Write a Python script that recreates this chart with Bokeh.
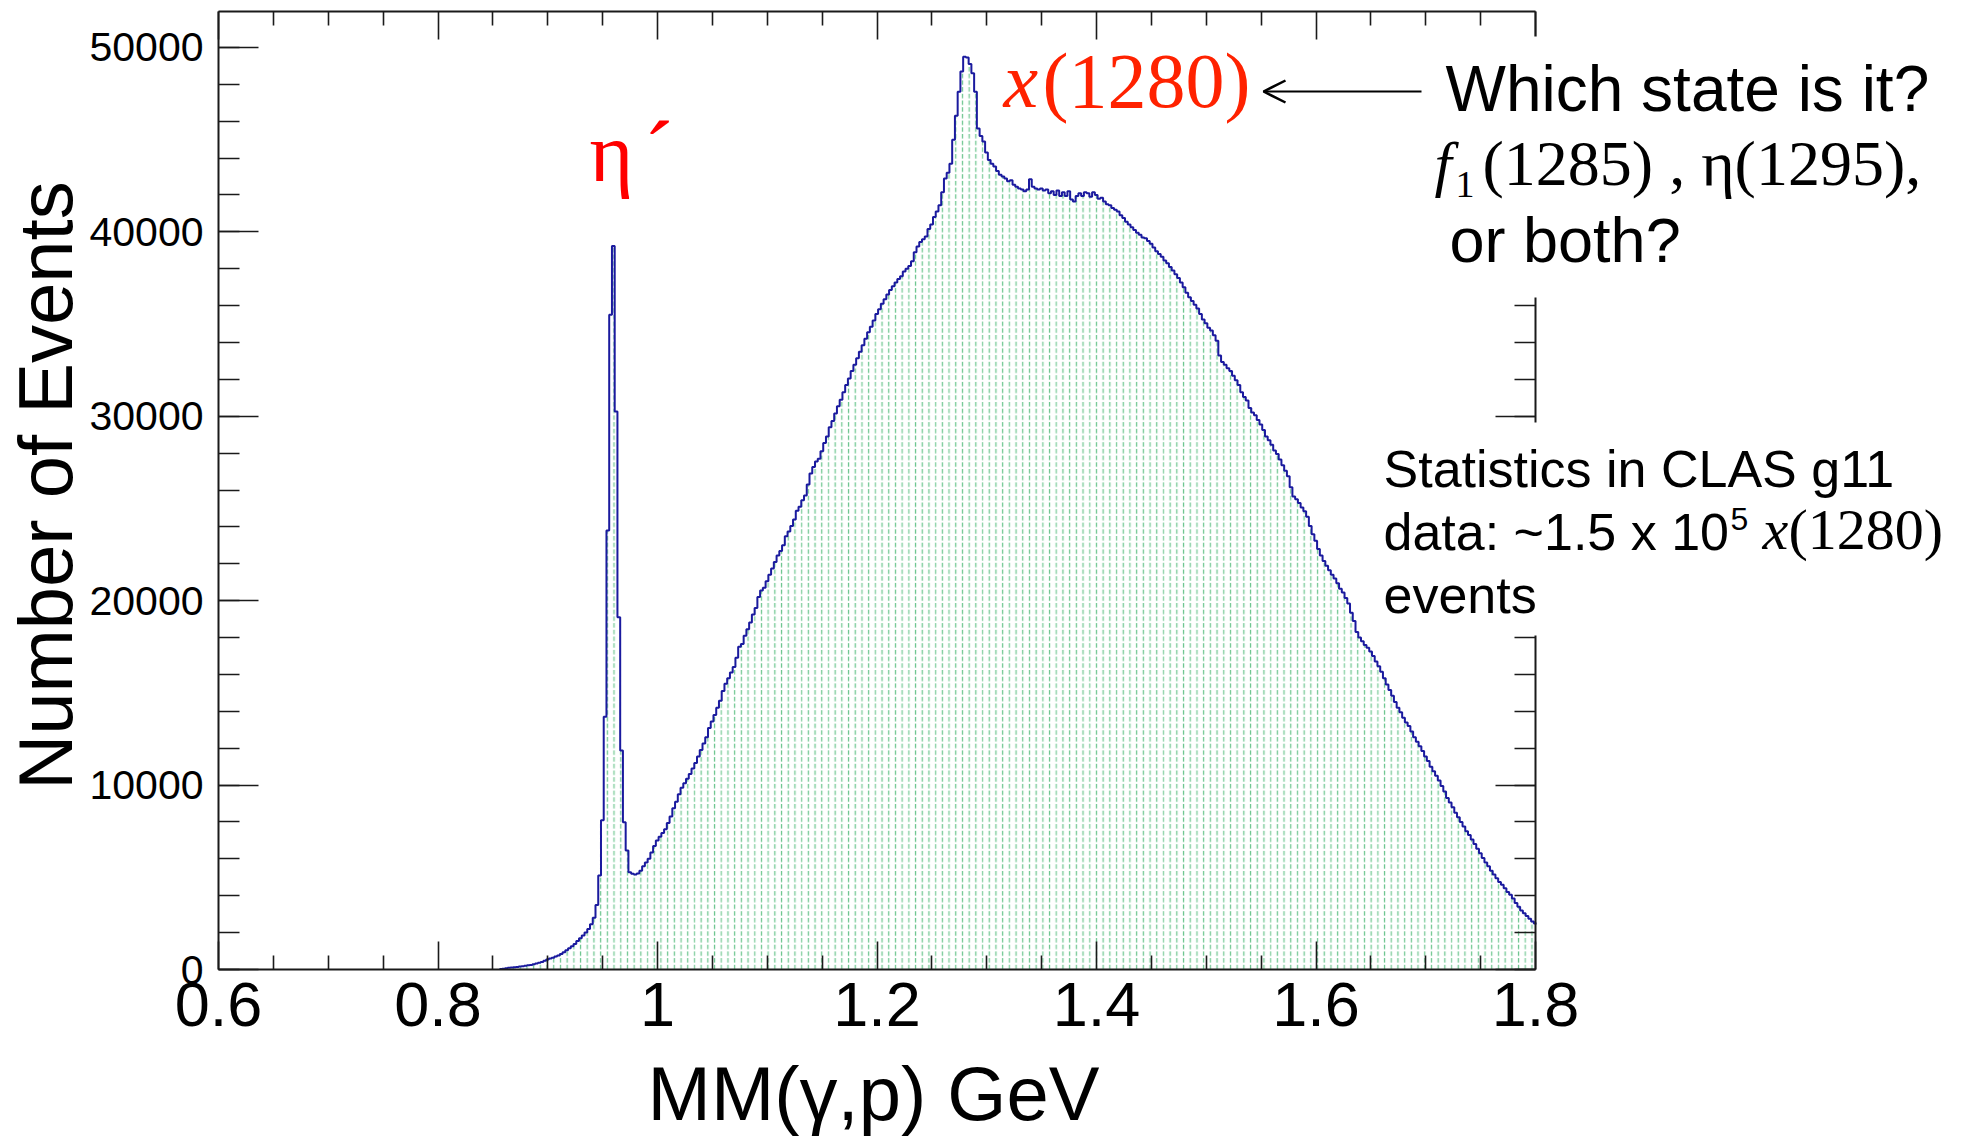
import math
from bokeh.plotting import figure
from bokeh.models import (Range1d, LinearAxis, FixedTicker, SingleIntervalTicker,
                          CustomJSTickFormatter, BasicTickFormatter, Label,
                          BoxAnnotation, Arrow, OpenHead)
from bokeh.embed import file_html
from bokeh.resources import INLINE

# ---------------- data ----------------
bin_start = 0.856          # GeV, lower edge of first filled bin
bin_width = 0.0025         # GeV
counts = [
    25, 45, 70, 90, 110, 125, 140, 160, 180, 205,
    225, 250, 280, 320, 360, 410, 470, 540, 590, 640,
    700, 760, 840, 930, 1040, 1150, 1260, 1380, 1550, 1700,
    1850, 2000, 2200, 2450, 2800, 3500, 5100, 8100, 13700, 23800,
    35500, 39240, 30260, 19100, 11870, 7990, 6450, 5280, 5190, 5150,
    5200, 5350, 5600, 5800, 6000, 6350, 6700, 6990, 7200, 7400,
    7600, 7950, 8300, 8750, 9100, 9500, 9850, 10100, 10350, 10600,
    10900, 11200, 11550, 11900, 12250, 12600, 13100, 13450, 13800, 14200,
    14580, 15100, 15500, 15800, 16100, 16400, 16900, 17500, 17650, 18100,
    18450, 18820, 19250, 19600, 20200, 20550, 20700, 21050, 21400, 21750,
    22100, 22450, 22700, 23000, 23500, 23750, 24050, 24400, 24880, 25100,
    25450, 25700, 26300, 26900, 27250, 27550, 27700, 28100, 28550, 28900,
    29400, 29750, 30150, 30550, 30900, 31300, 31700, 32050, 32450, 32800,
    33150, 33500, 33850, 34200, 34550, 34850, 35200, 35550, 35800, 36100,
    36350, 36600, 36850, 37050, 37250, 37450, 37600, 37850, 38000, 38150,
    38400, 38900, 39200, 39450, 39600, 39750, 40150, 40400, 40800, 41100,
    41450, 42150, 42900, 43200, 43700, 45000, 46300, 47600, 48700, 49500,
    49450, 49100, 48600, 47600, 45600, 45200, 44900, 44300, 43900, 43700,
    43550, 43300, 43100, 43000, 42900, 42750, 42800, 42550, 42450, 42350,
    42300, 42200, 42300, 42850, 42450, 42350, 42300, 42350, 42250, 42300,
    42100, 42200, 42000, 42250, 41950, 42150, 41950, 42200, 41750, 41650,
    41950, 42100, 41950, 42150, 42100, 41900, 42150, 42000, 41800, 41850,
    41650, 41500, 41450, 41300, 41200, 41100, 40900, 40750, 40550, 40400,
    40250, 40100, 39950, 39850, 39700, 39650, 39500, 39350, 39150, 38950,
    38800, 38650, 38450, 38300, 38100, 37900, 37700, 37500, 37250, 37000,
    36700, 36450, 36250, 36050, 35850, 35550, 35250, 35050, 34800, 34650,
    34400, 34100, 33300, 32950, 32800, 32600, 32450, 32200, 31950, 31700,
    31300, 31050, 30850, 30450, 30200, 30050, 29800, 29550, 29250, 28900,
    28700, 28450, 28150, 27950, 27650, 27350, 27050, 26750, 26150, 25650,
    25500, 25300, 25050, 24850, 24550, 24050, 23600, 23250, 22800, 22450,
    22150, 21900, 21650, 21400, 21200, 20950, 20650, 20450, 20150, 19850,
    19350, 18900, 18300, 18000, 17800, 17600, 17450, 17250, 17000, 16700,
    16450, 16150, 15800, 15450, 15150, 14850, 14500, 14200, 13950, 13650,
    13400, 13200, 12900, 12600, 12350, 12100, 11850, 11550, 11300, 11000,
    10750, 10500, 10250, 9950, 9650, 9300, 9050, 8800, 8500, 8250,
    8000, 7750, 7500, 7300, 7050, 6800, 6550, 6300, 6050, 5800,
    5600, 5350, 5150, 4950, 4750, 4600, 4400, 4200, 4050, 3850,
    3600, 3400, 3200, 3050, 2900, 2750, 2600, 2500,
]
x_major_ticks = [0.6, 0.8, 1.0, 1.2, 1.4, 1.6, 1.8]
x_minor_ticks = [0.65, 0.7, 0.75, 0.85, 0.9, 0.95, 1.05, 1.1, 1.15, 1.25, 1.3,
                 1.35, 1.45, 1.5, 1.55, 1.65, 1.7, 1.75]
x_title = "MM(\u03b3,p) GeV"
y_title = "Number of Events"

left_edges = [bin_start + bin_width * i for i in range(len(counts))]
right_edges = [e + bin_width for e in left_edges]

# ---------------- layout geometry (pixels) ----------------
W, H = 1955, 1136
FL, FR, FT, FB = 218, 1535, 11, 969       # histogram frame box on the canvas
XMIN, XMAX, YMIN, YMAX = 0.6, 1.8, 0.0, 51950.0
XPP = (XMAX - XMIN) / (FR - FL)            # data units per pixel
YPP = (YMAX - YMIN) / (FB - FT)

def dx(px):   # canvas x pixel -> data x
    return XMIN + (px - FL) * XPP

def dy(py):   # canvas y pixel -> data y
    return YMIN + (FB - py) * YPP

p = figure(width=W, height=H, output_backend="svg", toolbar_location=None,
           x_range=Range1d(dx(0), dx(W)), y_range=Range1d(dy(H), dy(0)),
           x_axis_type=None, y_axis_type=None,
           min_border=0, min_border_left=0, min_border_right=0,
           min_border_top=0, min_border_bottom=0)
p.outline_line_color = None
p.background_fill_color = "white"
p.border_fill_color = "white"

# hatched fill
p.quad(left=left_edges, right=right_edges, top=counts, bottom=0,
       fill_alpha=0, line_color=None,
       hatch_pattern=":", hatch_color="#6fc690", hatch_scale=6.7,
       hatch_weight=1.3)
# outline
p.step(x=left_edges + [right_edges[-1]], y=counts + [counts[-1]], mode="after",
       line_color="#1a1a9e", line_width=2)

AX = "#1a1a1a"
def style_axis(ax, tin, tmin):
    ax.axis_line_color = AX
    ax.axis_line_width = 2
    ax.major_tick_line_color = AX
    ax.minor_tick_line_color = AX
    ax.major_tick_line_width = 1.6
    ax.minor_tick_line_width = 1.6
    ax.major_tick_in = tin
    ax.major_tick_out = 0
    ax.minor_tick_in = tmin
    ax.minor_tick_out = 0

blank = CustomJSTickFormatter(code="return '';")

xb = LinearAxis(ticker=FixedTicker(ticks=x_major_ticks, minor_ticks=x_minor_ticks),
                formatter=CustomJSTickFormatter(code="return Number(tick.toFixed(2)).toString();"),
                fixed_location=YMIN, bounds=(XMIN, XMAX))
style_axis(xb, 28, 14)
xb.major_label_text_font = "Liberation Sans"
xb.major_label_text_font_size = "63px"
xb.major_label_text_color = "black"
xb.major_label_standoff = 13
p.add_layout(xb, "below")

xtop = LinearAxis(ticker=FixedTicker(ticks=x_major_ticks, minor_ticks=x_minor_ticks),
                  formatter=blank, fixed_location=YMAX, bounds=(XMIN, XMAX))
style_axis(xtop, 28, 14)
xtop.major_label_text_font_size = "1px"
xtop.major_label_standoff = 0
p.add_layout(xtop, "above")

yl = LinearAxis(ticker=SingleIntervalTicker(interval=10000, num_minor_ticks=5),
                formatter=BasicTickFormatter(use_scientific=False),
                fixed_location=XMIN, bounds=(YMIN, YMAX))
style_axis(yl, 40, 21)
yl.major_label_text_font = "Liberation Sans"
yl.major_label_text_font_size = "41px"
yl.major_label_text_color = "black"
yl.major_label_standoff = 15
p.add_layout(yl, "left")

yr = LinearAxis(ticker=SingleIntervalTicker(interval=10000, num_minor_ticks=5),
                formatter=blank, fixed_location=XMAX, bounds=(YMIN, YMAX))
style_axis(yr, 40, 21)
yr.major_label_text_font_size = "1px"
yr.major_label_standoff = 0
p.add_layout(yr, "right")

# white boxes behind the right-hand texts (they hide part of the frame)
p.add_layout(BoxAnnotation(left=dx(1438), right=dx(W + 20), top=dy(36), bottom=dy(297),
                           fill_color="white", fill_alpha=1, line_color=None,
                           level="annotation"))
p.add_layout(BoxAnnotation(left=dx(1375), right=dx(W + 20), top=dy(422), bottom=dy(635),
                           fill_color="white", fill_alpha=1, line_color=None,
                           level="annotation"))

BASE_SHIFT = 0.36   # em; compensates where the text's baseline lands

def lab(px, base, text, font, size, color="black", style="normal", align="left",
        angle=0):
    fs = float(size.replace("px", ""))
    if angle == 0:
        x, y = dx(px), dy(base - BASE_SHIFT * fs)
    else:
        x, y = dx(px - BASE_SHIFT * fs), dy(base)
    p.add_layout(Label(x=x, y=y, text=text, text_font=font,
                       text_font_size=size, text_color=color,
                       text_font_style=style, text_align=align,
                       text_baseline="alphabetic", angle=angle, level="overlay"))

SANS = "Liberation Sans"
SERIF = "Liberation Serif"

# axis titles
lab(72, 485, y_title, SANS, "76px", align="center", angle=math.pi / 2)
lab(873, 1120, x_title, SANS, "76px", align="center")

# eta prime
lab(589, 182, "\u03b7", SERIF, "84px", color="#ff0000")
lab(643, 186, "\u00b4", SERIF, "92px", color="#ff0000")

# x(1280)
RED2 = "#ff2200"
lab(1003, 108, "x", SERIF, "78px", color=RED2, style="italic")
lab(1042, 108, "(1280)", SERIF, "78px", color=RED2)

# arrow
p.add_layout(Arrow(x_start=dx(1421), y_start=dy(91), x_end=dx(1263), y_end=dy(91),
                   line_color="black", line_width=2,
                   end=OpenHead(size=22, line_width=2.5, line_color="black"),
                   level="overlay"))

# right-hand question text
lab(1445, 112, "Which state is it?", SANS, "64px")
lab(1434, 186, "f", SERIF, "62px", style="italic")
lab(1455, 198, "1", SERIF, "38px")
lab(1482, 186, "(1285) , \u03b7(1295),", SERIF, "64px")
lab(1449, 262, "or both?", SANS, "63px")

# statistics text
lab(1383, 487, "Statistics in CLAS g11", SANS, "52px")
lab(1383, 550, "data: ~1.5 x 10", SANS, "52px")
lab(1730, 530, "5", SANS, "32px")
lab(1762, 550, "x", SERIF, "58px", style="italic")
lab(1788, 550, "(1280)", SERIF, "58px")
lab(1383, 613, "events", SANS, "52px")

open("out.html", "w").write(file_html(p, INLINE))
